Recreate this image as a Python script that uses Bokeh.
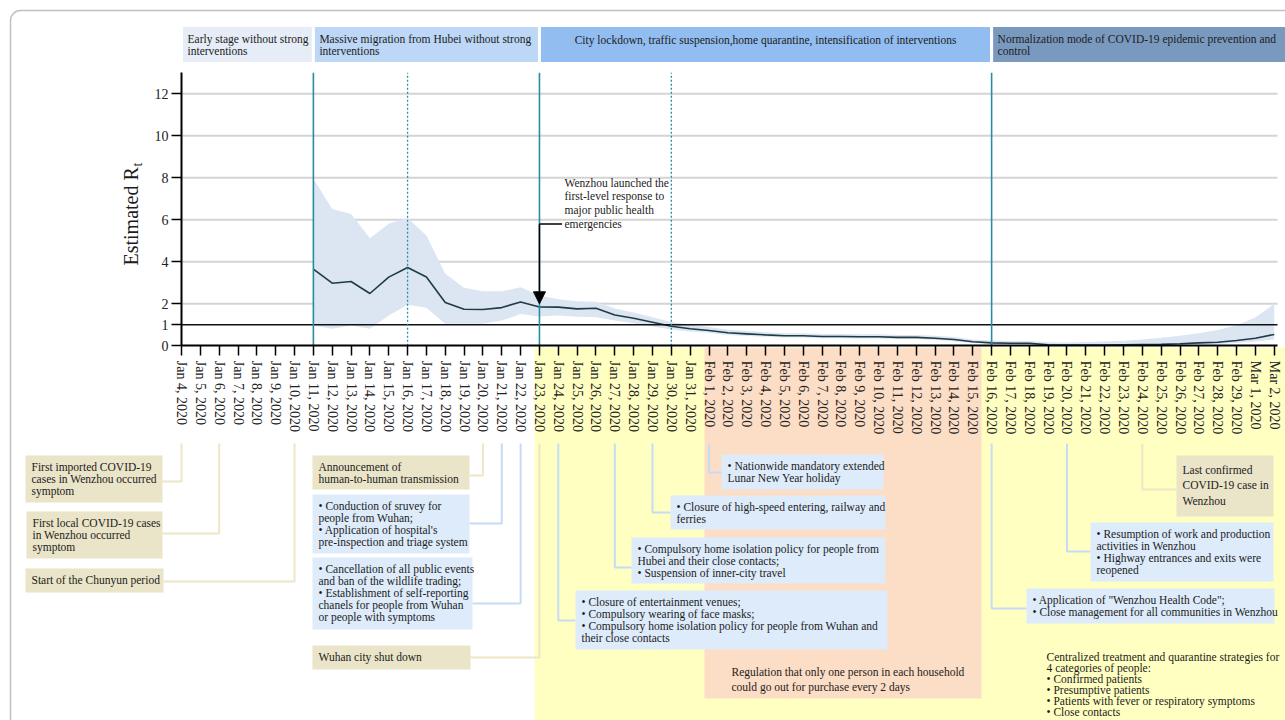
import math
import pandas as pd
from bokeh.plotting import figure
from bokeh.models import Range1d, LinearAxis, FixedTicker, Arrow, NormalHead, BoxAnnotation
from bokeh.core.properties import value
from bokeh.embed import file_html
from bokeh.resources import INLINE

# ---------------- data ----------------
dates = pd.date_range("2020-01-04", "2020-03-02", freq="D")
date_labels = [f"{d:%b} {d.day}, {d.year}" for d in dates]
day_index = list(range(len(date_labels)))

rt_days = list(range(7, 59))  # Jan 11 .. Mar 2
rt_mean = [3.65, 2.98, 3.06, 2.49, 3.27, 3.73, 3.28, 2.06, 1.74, 1.73, 1.82, 2.09, 1.85,
           1.84, 1.76, 1.79, 1.47, 1.31, 1.12, 0.93, 0.81, 0.73, 0.62, 0.57, 0.52, 0.48,
           0.48, 0.44, 0.44, 0.43, 0.43, 0.40, 0.40, 0.36, 0.30, 0.19, 0.14, 0.12, 0.12,
           0.05, 0.03, 0.03, 0.03, 0.05, 0.06, 0.07, 0.10, 0.14, 0.17, 0.25, 0.36, 0.54]
rt_upper = [7.95, 6.52, 6.28, 5.12, 5.81, 6.08, 5.25, 3.43, 2.76, 2.60, 2.60, 2.79, 2.40,
            2.22, 2.12, 2.10, 1.78, 1.58, 1.36, 1.13, 1.00, 0.89, 0.76, 0.70, 0.65, 0.60,
            0.60, 0.56, 0.56, 0.55, 0.55, 0.52, 0.52, 0.48, 0.42, 0.30, 0.25, 0.23, 0.23,
            0.17, 0.16, 0.18, 0.20, 0.24, 0.30, 0.38, 0.48, 0.60, 0.75, 0.98, 1.35, 2.00]
rt_lower = [0.97, 0.81, 0.97, 0.81, 1.44, 1.95, 1.81, 1.05, 1.05, 1.05, 1.20, 1.52, 1.40,
            1.44, 1.38, 1.36, 1.20, 1.07, 0.92, 0.78, 0.68, 0.62, 0.52, 0.47, 0.43, 0.39,
            0.39, 0.36, 0.36, 0.35, 0.35, 0.32, 0.32, 0.28, 0.22, 0.13, 0.09, 0.07, 0.07,
            0.02, 0.01, 0.01, 0.01, 0.02, 0.03, 0.03, 0.05, 0.07, 0.09, 0.13, 0.20, 0.30]

rt_ticks = [0, 1, 2, 4, 6, 8, 10, 12]
grid_ticks = [2, 4, 6, 8, 10, 12]
threshold = [1]

phase_names = ["Early stage without strong\ninterventions",
               "Massive migration from Hubei without strong\ninterventions",
               "City lockdown, traffic suspension,home quarantine, intensification of interventions",
               "Normalization mode of COVID-19 epidemic prevention and\ncontrol"]
phase_start = [0, 7, 19, 43]
phase_end = [7, 19, 43, 59.5]
phase_colors = ["#E6EDF7", "#BDD7F6", "#92BDF1", "#7A99BF"]
phase_lines = [7, 19, 43]
dotted_lines = [12, 26]

response_day = [19]
response_text = ["Wenzhou launched the\nfirst-level response to\nmajor public health\nemergencies"]

event_texts = [
    "First imported COVID-19\ncases in Wenzhou occurred\nsymptom",
    "First local COVID-19 cases\nin Wenzhou occurred\nsymptom",
    "Start of the Chunyun period",
    "Announcement of\nhuman-to-human transmission",
    "\u2022 Conduction of sruvey for\npeople from Wuhan;\n\u2022 Application of hospital's\npre-inspection and triage system",
    "\u2022 Cancellation of all public events\nand ban of the wildlife trading;\n\u2022 Establishment of self-reporting\nchanels for people from Wuhan\nor people with symptoms",
    "Wuhan city shut down",
    "\u2022 Nationwide mandatory extended\nLunar New Year holiday",
    "\u2022 Closure of high-speed entering, railway and\nferries",
    "\u2022 Compulsory home isolation policy for people from\nHubei and their close contacts;\n\u2022 Suspension of inner-city travel",
    "\u2022 Closure of entertainment venues;\n\u2022 Compulsory wearing of face masks;\n\u2022 Compulsory home isolation policy for people from Wuhan and\ntheir close contacts",
    "Last confirmed\nCOVID-19 case in\nWenzhou",
    "\u2022 Resumption of work and production\nactivities in Wenzhou\n\u2022 Highway entrances and exits were\nreopened",
    "\u2022 Application of \"Wenzhou Health Code\";\n\u2022 Close management for all communities in Wenzhou",
]
event_days = [0, 2, 6, 16, 17, 18, 19, 28, 25, 23, 20, 51, 47, 43]
event_kind = ["event", "event", "event", "event", "measure", "measure", "event",
              "measure", "measure", "measure", "measure", "event", "measure", "measure"]

period_notes = ["Regulation that only one person in each household\ncould go out for purchase every 2 days"]
period_start = [27.76]
period_end = [42.46]
quarantine_note = ["Centralized treatment and quarantine strategies for\n4 categories of people:\n"
                   "\u2022 Confirmed patients\n\u2022 Presumptive patients\n"
                   "\u2022 Patients with fever or respiratory symptoms\n\u2022 Close contacts"]

# ---------------- layout (pixels of the 1285x720 picture) ----------------
W, H = 1285, 720
X0_PX, PX_PER_DAY = 181.0, 18.84
Y0_PX, PX_PER_RT = 345.3, 21.0

x_start = (0 - X0_PX) / PX_PER_DAY
x_end = (W - X0_PX) / PX_PER_DAY
y_top = (Y0_PX - 0) / PX_PER_RT
y_bottom = (Y0_PX - H) / PX_PER_RT
axis_end = (1277 - X0_PX) / PX_PER_DAY


def day_px(d):
    return X0_PX + d * PX_PER_DAY


box_l = [25, 26, 25, 312, 312, 312, 312, 721, 670, 631, 575, 1176, 1090, 1026]
box_t = [455, 511, 568, 455, 494, 557, 645, 454, 495, 537, 590, 455, 522, 588]
box_r = [162, 162, 163, 469, 469, 472, 470, 883, 885, 885, 887, 1273, 1273, 1274]
box_b = [502, 558, 592, 489, 553, 629, 669, 489, 529, 583, 649, 516, 581, 623]
conn_y = [481, 533, 581, 475, 523, 603, 657, 472, 512, 567, 620, 489, 551, 608]
CONN_TOP = 443

FONT = value("Liberation Serif")
TXT = "#1c1c1c"
kind_fill = {"event": "#EAE4C8", "measure": "#DDEBFA"}
kind_line = {"event": "#EEE6C6", "measure": "#C6DCF6"}

p = figure(width=W, height=H, x_range=Range1d(x_start, x_end),
           y_range=Range1d(y_bottom, y_top), x_axis_type=None, y_axis_type=None,
           output_backend="svg", toolbar_location=None, min_border=0,
           outline_line_color=None)
p.extra_x_ranges = {"px_x": Range1d(0, W)}
p.extra_y_ranges = {"px_y": Range1d(H, 0)}

# period backgrounds under the time axis
p.quad(left=[18.74], right=[x_end + 2], top=[347], bottom=[H + 40], y_range_name="px_y",
       fill_color="#FFFFC2", line_color=None)
p.quad(left=period_start, right=period_end, top=[347], bottom=[698], y_range_name="px_y",
       fill_color="#FCDDC5", line_color=None)

# phase header bands
p.quad(left=phase_start, right=phase_end, top=[25] * 4, bottom=[63] * 4, y_range_name="px_y",
       fill_color=phase_colors, line_color="white", line_width=3)
for i, name in enumerate(phase_names):
    if i == 2:
        p.text(x=[(day_px(phase_start[i]) + day_px(phase_end[i])) / 2], y=[39], text=[name],
               x_range_name="px_x", y_range_name="px_y",
               text_font=FONT, text_font_size="11.5px", text_align="center",
               text_baseline="middle", text_color=TXT)
    else:
        p.text(x=[day_px(phase_start[i]) + 6], y=[32], text=[name], x_range_name="px_x",
               y_range_name="px_y", text_font=FONT, text_font_size="11.5px",
               text_align="left", text_baseline="top", text_line_height=1.08,
               text_color=TXT)

# grid lines
p.segment(x0=[0] * len(grid_ticks), y0=grid_ticks, x1=[axis_end] * len(grid_ticks),
          y1=grid_ticks, line_color="#D4D4D4", line_width=2)

# credible interval and mean Rt
p.varea(x=rt_days, y1=rt_lower, y2=rt_upper, fill_color="#DCE5F2")
p.line(x=rt_days, y=rt_mean, line_color="#1E3C46", line_width=1.6)

# threshold line Rt = 1
p.segment(x0=[0], y0=threshold, x1=[axis_end], y1=threshold, line_color="#111111",
          line_width=1.5)

# phase separators
p.segment(x0=phase_lines, y0=[0] * 3, x1=phase_lines, y1=[13] * 3,
          line_color="#2A8CA4", line_width=1.6)
p.segment(x0=dotted_lines, y0=[0] * 2, x1=dotted_lines, y1=[13] * 2,
          line_color="#2A8CA4", line_width=1.3, line_dash="2 2")

# first-level response arrow
p.add_layout(Arrow(end=NormalHead(size=12, fill_color="black", line_color="black"),
                   x_start=response_day[0], y_start=5.8, x_end=response_day[0], y_end=2.0,
                   line_color="black", line_width=1.5))
p.segment(x0=response_day, y0=[5.8], x1=[response_day[0] + 1.2], y1=[5.8],
          line_color="black", line_width=1.5)
p.text(x=[564], y=[176], text=response_text, x_range_name="px_x", y_range_name="px_y",
       text_font=FONT, text_font_size="11.5px", text_baseline="top",
       text_line_height=1.15, text_color=TXT)

# axes
yaxis = LinearAxis(fixed_location=0, bounds=(0, 13), ticker=FixedTicker(ticks=rt_ticks),
                   major_tick_out=10, major_tick_in=0, major_label_standoff=3,
                   axis_line_width=2, major_tick_line_width=1.5,
                   major_label_text_font="Liberation Serif",
                   major_label_text_font_size="14px", major_label_text_color="#222222")
p.add_layout(yaxis, "left")
xaxis = LinearAxis(fixed_location=0, bounds=(0, axis_end), ticker=FixedTicker(ticks=day_index),
                   major_label_overrides={i: lab for i, lab in zip(day_index, date_labels)},
                   major_label_orientation="vertical",
                   major_tick_out=10, major_tick_in=0, major_label_standoff=5,
                   axis_line_width=2, major_tick_line_width=1.5,
                   major_label_text_font="Liberation Serif",
                   major_label_text_font_size="14px", major_label_text_color="#222222")
p.add_layout(xaxis, "below")

# y axis title
p.text(x=[130], y=[265], text=["Estimated R"], angle=math.pi / 2, x_range_name="px_x",
       y_range_name="px_y", text_font=FONT, text_font_size="20px", text_align="left",
       text_baseline="middle", text_color=TXT)
p.text(x=[137], y=[166], text=["t"], angle=math.pi / 2, x_range_name="px_x",
       y_range_name="px_y", text_font=FONT, text_font_size="14px", text_align="left",
       text_baseline="middle", text_color=TXT)

# event connectors
for i, d in enumerate(event_days):
    vx = day_px(d)
    edge = box_r[i] if box_r[i] < vx else box_l[i]
    p.line(x=[vx, vx, edge], y=[CONN_TOP, conn_y[i], conn_y[i]], x_range_name="px_x",
           y_range_name="px_y", line_color=kind_line[event_kind[i]], line_width=2)

# event boxes
p.quad(left=box_l, right=box_r, top=box_t, bottom=box_b, x_range_name="px_x",
       y_range_name="px_y", fill_color=[kind_fill[k] for k in event_kind], line_color=None)
for i, t in enumerate(event_texts):
    lh = 1.3 if i == 11 else 1.02
    pad = 8 if i == 11 else 5
    p.text(x=[box_l[i] + 6], y=[box_t[i] + pad], text=[t], x_range_name="px_x",
           y_range_name="px_y", text_font=FONT, text_font_size="11.5px", text_align="left",
           text_baseline="top", text_line_height=lh, text_color=TXT)

# free notes
p.text(x=[731], y=[665], text=period_notes, x_range_name="px_x", y_range_name="px_y",
       text_font=FONT, text_font_size="11.5px", text_baseline="top",
       text_line_height=1.3, text_color=TXT)
p.text(x=[1046], y=[650], text=quarantine_note, x_range_name="px_x", y_range_name="px_y",
       text_font=FONT, text_font_size="11.5px", text_baseline="top",
       text_line_height=0.92, text_color=TXT)

# outer rounded frame
p.add_layout(BoxAnnotation(left=10, right=1400, top=10, bottom=900, x_range_name="px_x",
                           y_range_name="px_y", fill_alpha=0, line_color="#333333",
                           line_width=1.5, border_radius=10))

open("out.html", "w").write(file_html(p, INLINE))
